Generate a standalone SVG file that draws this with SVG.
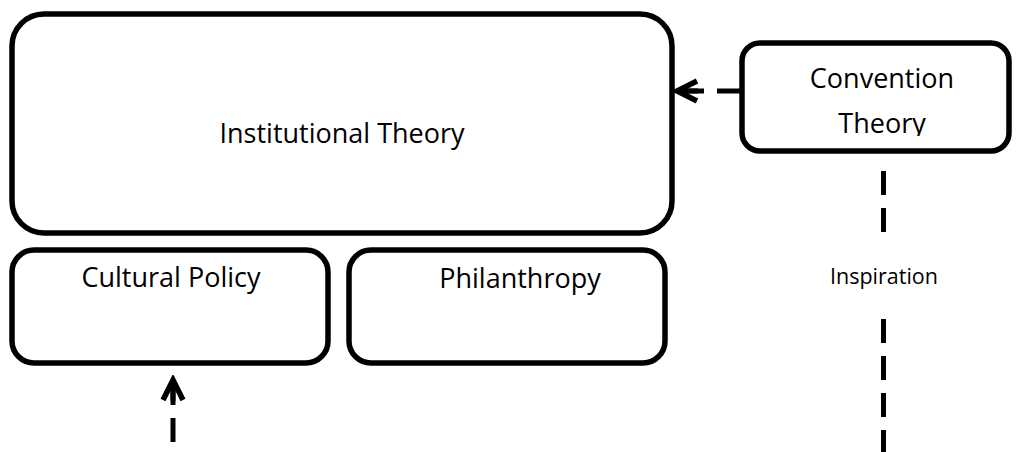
<svg xmlns="http://www.w3.org/2000/svg" width="1016" height="452" viewBox="0 0 1016 452">
  <style>
    .box { fill: #ffffff; stroke: #000000; stroke-width: 5.5; }
    .lbl { font-family: "Open Sans", "Liberation Sans", sans-serif; fill: #000000; text-anchor: middle; }
    .big { font-size: 27px; }
    .small { font-size: 21.5px; }
    .conn { fill: none; stroke: #000000; stroke-width: 5; stroke-dasharray: 24 13; }
  </style>
  <defs>
    <marker id="arrow" markerUnits="userSpaceOnUse" markerWidth="32" markerHeight="32" viewBox="-28 -16 32 32" refX="0" refY="0" orient="auto">
      <path d="M-21,-10 L-1,0 L-21,10" fill="none" stroke="#000000" stroke-width="5.5" stroke-linejoin="miter"/>
      <path d="M-22,0 L-2,0" fill="none" stroke="#000000" stroke-width="5"/>
    </marker>
    <clipPath id="convClip">
      <rect x="742" y="43" width="267" height="93"/>
    </clipPath>
  </defs>
  <rect width="1016" height="452" fill="#ffffff"/>

  <g id="connectors">
    <path class="conn" d="M741,91 L676,91" marker-end="url(#arrow)"/>
    <path class="conn" d="M173,479 L173,379" marker-end="url(#arrow)"/>
    <path class="conn" d="M883.5,171 L883.5,456"/>
    <rect x="830" y="240" width="108" height="72" fill="#ffffff"/>
    <text class="lbl small" x="884" y="284">Inspiration</text>
  </g>

  <g id="institutional-theory">
    <rect class="box" x="12" y="14" width="660" height="219" rx="32" ry="32"/>
    <text class="lbl big" x="342" y="143">Institutional Theory</text>
  </g>

  <g id="cultural-policy">
    <rect class="box" x="12" y="250" width="316" height="113" rx="22" ry="22"/>
    <text class="lbl big" x="171" y="287">Cultural Policy</text>
  </g>

  <g id="philanthropy">
    <rect class="box" x="349" y="250" width="316" height="113" rx="22" ry="22"/>
    <text class="lbl big" x="520" y="288">Philanthropy</text>
  </g>

  <g id="convention-theory">
    <rect class="box" x="742" y="43" width="267" height="108" rx="18" ry="18"/>
    <g clip-path="url(#convClip)">
      <text class="lbl big" x="882" y="88">Convention</text>
      <text class="lbl big" x="882" y="133">Theory</text>
    </g>
  </g>
</svg>
